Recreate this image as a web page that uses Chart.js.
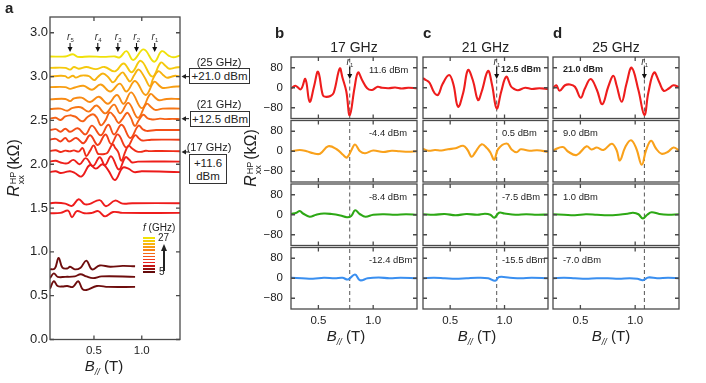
<!DOCTYPE html>
<html lang="en">
  <head>
    <meta charset="UTF-8" />
    <title>Resistance oscillations vs in-plane field</title>
    <script src="https://cdn.jsdelivr.net/npm/chart.js"></script>
    <style>
      body { margin: 0; background: #fff; }
      #fig {
        position: relative; width: 706px; height: 383px; overflow: hidden;
        font-family: "Liberation Sans", Arial, sans-serif; color: #222;
      }
      #fig canvas { position: absolute; left: 0; top: 0; }
      #labels { position: absolute; left: 0; top: 0; width: 706px; height: 383px; z-index: 2; }
      .t { position: absolute; white-space: nowrap; line-height: 1; }
      .letter { font-weight: bold; font-size: 15px; }
      .freq { font-size: 14px; transform: translateX(-50%); }
      .pow { font-size: 9.4px; }
      .pow.bold { font-weight: bold; font-size: 9px; }
      .xt { font-size: 15px; transform: translateX(-50%); }
      .xt sub { font-size: 9px; vertical-align: -4px; }
      .yt { font-size: 16px; transform: translate(-50%, -50%) rotate(-90deg); }
      .ss { display: inline-block; font-size: 9px; line-height: 8px; vertical-align: -5px; margin: 0 2px 0 1px; }
      .ss span { display: block; }
      .gz { font-size: 11px; transform: translate(-50%, -50%); }
      .box {
        position: absolute; border: 1.2px solid #333; font-size: 11.5px; text-align: center;
        box-sizing: border-box; background: #fff; line-height: 13px; white-space: nowrap;
      }
      .leg { font-size: 10px; }
      .bar { position: absolute; width: 12px; height: 1.7px; }
    </style>
  </head>
  <body>
    <div id="fig">
      <div id="labels">
        <div class="t letter" style="left:5px;top:0px">a</div>
        <div class="t letter" style="left:275px;top:25px">b</div>
        <div class="t letter" style="left:423px;top:25px">c</div>
        <div class="t letter" style="left:553px;top:25px">d</div>

        <div class="t yt" style="left:15px;top:168px"><i>R</i><span class="ss"><span>HP</span><span>xx</span></span>(kΩ)</div>
        <div class="t yt" style="left:252px;top:158px"><i>R</i><span class="ss"><span>HP</span><span>xx</span></span>(kΩ)</div>

        <div class="t xt" style="left:104px;top:358px"><i>B</i><sub><i>//</i></sub> (T)</div>
        <div class="t xt" style="left:346px;top:328px"><i>B</i><sub><i>//</i></sub> (T)</div>
        <div class="t xt" style="left:477px;top:328px"><i>B</i><sub><i>//</i></sub> (T)</div>
        <div class="t xt" style="left:611px;top:328px"><i>B</i><sub><i>//</i></sub> (T)</div>

        <div class="t gz" style="left:219px;top:62px">(25 GHz)</div>
        <div class="box" style="left:189px;top:68px;width:61px;height:16px;padding-top:1px">+21.0 dBm</div>
        <div class="t gz" style="left:219px;top:104px">(21 GHz)</div>
        <div class="box" style="left:190px;top:111px;width:60px;height:16px;padding-top:1px">+12.5 dBm</div>
        <div class="t gz" style="left:209px;top:147px">(17 GHz)</div>
        <div class="box" style="left:189px;top:154px;width:38px;height:30px;padding-top:2px">+11.6<br />dBm</div>

        <div class="t leg" style="left:143px;top:223px"><i>f</i> (GHz)</div>
        <div class="t leg" style="left:158px;top:233px">27</div>
        <div class="t leg" style="left:159px;top:267px">5</div>
        <div style="position:absolute;left:163.4px;top:250px;width:1.3px;height:21px;background:#222"></div>
        <div style="position:absolute;left:161px;top:244px;width:0;height:0;border-left:3px solid transparent;border-right:3px solid transparent;border-bottom:7px solid #222"></div>
      </div>
    </div>

    <script>
      const FONT = '"Liberation Sans", Arial, sans-serif';
      const W = 706, H = 383;

      // ---------- panel a ----------
      const aXRange = [0.04, 1.4];
      const aYRange = [0, 3.68];
      const aXTicks = [0.5, 1.0];
      const aYTicks = [0, 0.5, 1.0, 1.5, 2.0, 2.5, 3.0, 3.5];
      const aYTickLabels = ["0.0", "0.5", "1.0", "1.5", "2.0", "2.5", "3.0", "3.0"];
      const aRSubs = ["1", "2", "3", "4", "5"];
      const aRPositions = [1.135, 0.945, 0.75, 0.54, 0.25];
      const aArrowTargets = [3.0, 2.52, 2.14];

      // 12 stacked traces, top (27 GHz) to bottom
      const a1 = [[0.04,3.23],[0.2,3.23],[0.28,3.255],[0.33,3.225],[0.45,3.23],[0.6,3.225],[0.72,3.23],[0.77,3.22],[0.84,3.29],[0.91,3.19],[1.02,3.31],[1.13,3.17],[1.21,3.29],[1.28,3.24],[1.33,3.22],[1.4,3.24]];
      const a2 = [[0.04,3.1],[0.2,3.1],[0.25,3.08],[0.29,3.11],[0.34,3.09],[0.42,3.11],[0.52,3.085],[0.61,3.11],[0.72,3.06],[0.81,3.15],[0.895,3.05],[0.99,3.18],[1.11,3.0],[1.2,3.16],[1.25,3.12],[1.29,3.09],[1.34,3.1],[1.4,3.11]];
      const a3 = [[0.04,3.0],[0.15,3.01],[0.2,3.005],[0.23,2.985],[0.28,3.01],[0.31,2.988],[0.36,3.01],[0.405,3.013],[0.45,3.004],[0.503,2.96],[0.54,2.996],[0.594,3.035],[0.65,2.992],[0.7,2.934],[0.755,3.005],[0.8,3.048],[0.83,3.01],[0.877,2.944],[0.92,3.015],[0.968,3.08],[1.03,2.99],[1.084,2.891],[1.12,2.98],[1.172,3.061],[1.22,3.022],[1.26,2.988],[1.31,2.998],[1.35,3.01],[1.4,3.002]];
      const a4 = [[0.04,2.88],[0.2,2.88],[0.25,2.86],[0.3,2.875],[0.39,2.895],[0.48,2.85],[0.57,2.91],[0.67,2.83],[0.77,2.92],[0.84,2.83],[0.93,2.95],[1.04,2.79],[1.13,2.94],[1.18,2.9],[1.22,2.87],[1.3,2.88],[1.4,2.89]];
      const a5 = [[0.04,2.74],[0.2,2.745],[0.25,2.72],[0.29,2.75],[0.37,2.76],[0.46,2.71],[0.55,2.77],[0.645,2.69],[0.74,2.79],[0.81,2.69],[0.89,2.82],[1.0,2.64],[1.09,2.8],[1.14,2.76],[1.18,2.73],[1.26,2.745],[1.4,2.745]];
      const a6 = [[0.04,2.63],[0.15,2.635],[0.22,2.61],[0.27,2.64],[0.36,2.65],[0.445,2.6],[0.525,2.67],[0.62,2.58],[0.71,2.68],[0.775,2.58],[0.86,2.7],[0.96,2.53],[1.05,2.69],[1.1,2.65],[1.14,2.62],[1.22,2.635],[1.4,2.635]];
      const a7 = [[0.04,2.52],[0.1,2.53],[0.15,2.505],[0.2,2.545],[0.25,2.558],[0.28,2.55],[0.31,2.54],[0.357,2.498],[0.39,2.492],[0.43,2.535],[0.49,2.571],[0.53,2.533],[0.572,2.444],[0.62,2.5],[0.664,2.591],[0.71,2.548],[0.756,2.471],[0.79,2.505],[0.848,2.587],[0.885,2.532],[0.928,2.437],[0.97,2.505],[1.016,2.564],[1.06,2.525],[1.09,2.515],[1.124,2.51],[1.19,2.52],[1.25,2.515],[1.32,2.518],[1.4,2.515]];
      const a8 = [[0.04,2.39],[0.1,2.4],[0.15,2.37],[0.2,2.405],[0.25,2.37],[0.33,2.41],[0.41,2.34],[0.48,2.44],[0.57,2.33],[0.65,2.45],[0.71,2.34],[0.79,2.45],[0.88,2.3],[0.965,2.44],[1.01,2.4],[1.05,2.38],[1.15,2.39],[1.4,2.39]];
      const a9 = [[0.04,2.28],[0.1,2.29],[0.15,2.26],[0.2,2.3],[0.24,2.26],[0.315,2.3],[0.39,2.24],[0.46,2.33],[0.54,2.22],[0.62,2.34],[0.68,2.23],[0.75,2.34],[0.84,2.19],[0.93,2.33],[0.975,2.29],[1.01,2.27],[1.1,2.28],[1.4,2.28]];
      const a10 = [[0.04,2.15],[0.1,2.16],[0.15,2.14],[0.2,2.155],[0.247,2.147],[0.29,2.158],[0.34,2.144],[0.381,2.185],[0.42,2.094],[0.46,2.155],[0.497,2.214],[0.54,2.121],[0.563,2.115],[0.61,2.117],[0.64,2.13],[0.695,2.227],[0.72,2.19],[0.755,2.135],[0.786,2.04],[0.83,2.15],[0.862,2.211],[0.9,2.18],[0.945,2.148],[0.99,2.141],[1.04,2.154],[1.08,2.15],[1.2,2.151],[1.4,2.148]];
      const a11 = [[0.04,2.03],[0.1,2.04],[0.15,2.02],[0.22,2.01],[0.285,2.05],[0.35,2.0],[0.415,2.07],[0.49,1.98],[0.56,2.08],[0.615,1.99],[0.68,2.09],[0.76,1.94],[0.83,2.08],[0.87,2.05],[0.9,2.02],[0.96,2.03],[1.4,2.03]];
      const a12 = [[0.04,1.91],[0.1,1.92],[0.15,1.9],[0.2,1.91],[0.25,1.92],[0.3,1.9],[0.37,1.86],[0.455,1.99],[0.52,1.95],[0.59,2.0],[0.65,1.93],[0.72,1.82],[0.8,1.96],[0.86,1.95],[0.92,1.91],[1.0,1.92],[1.4,1.91]];
      // two traces near 1.5 kOhm, three low-frequency traces
      const aRed1 = [[0.04,1.555],[0.1,1.56],[0.2,1.55],[0.27,1.525],[0.34,1.6],[0.4,1.545],[0.45,1.545],[0.56,1.59],[0.625,1.52],[0.72,1.585],[0.8,1.55],[0.9,1.555],[1.4,1.555]];
      const aRed2 = [[0.04,1.44],[0.15,1.445],[0.23,1.47],[0.27,1.395],[0.32,1.465],[0.4,1.44],[0.48,1.445],[0.545,1.465],[0.615,1.405],[0.7,1.455],[0.8,1.445],[1.4,1.445]];
      const aLow1 = [[0.04,0.8],[0.09,0.81],[0.13,0.93],[0.17,0.82],[0.22,0.81],[0.25,0.83],[0.3,0.8],[0.36,0.82],[0.42,0.9],[0.48,0.8],[0.56,0.845],[0.67,0.83],[0.8,0.84],[0.93,0.835]];
      const aLow2 = [[0.04,0.7],[0.08,0.755],[0.12,0.715],[0.2,0.715],[0.3,0.72],[0.36,0.745],[0.42,0.72],[0.49,0.7],[0.58,0.72],[0.93,0.715]];
      const aLow3 = [[0.04,0.58],[0.08,0.665],[0.12,0.61],[0.17,0.605],[0.22,0.61],[0.28,0.6],[0.335,0.665],[0.38,0.575],[0.42,0.565],[0.53,0.61],[0.65,0.6],[0.93,0.6]];

      const aTraceColors = ["#f0e10a","#f5c90c","#f7b20f","#f89e12","#f88a14","#f77615","#f66216","#f44f17","#f23d18","#f02c19","#ee1f1b","#ec1a1a"];
      const aRedColor = "#ee1c1c";
      const aLowColor = "#6e0d0d";
      const legendColors = ["#f2e205","#f5cc0a","#f7b310","#f89c13","#f88415","#f66c16","#f45418","#f23a1a","#ea1e1e","#c51616","#921010","#640b0b"];

      // ---------- panels b, c, d ----------
      const bcdXRange = [0.25, 1.4];
      const bcdYRange = [-123, 123];
      const bcdXTicks = [0.5, 1.0];
      const bcdYTicks = [-80, 0, 80];
      const freqs = ["17 GHz", "21 GHz", "25 GHz"];
      const r1Pos = [0.786, 0.928, 1.084];
      const rowColors = ["#ee1d1d", "#f9a11b", "#2da815", "#3a8ff0"];
      const powers = [
        ["11.6 dBm", "-4.4 dBm", "-8.4 dBm", "-12.4 dBm"],
        ["12.5 dBm", "0.5 dBm", "-7.5 dBm", "-15.5 dBm"],
        ["21.0 dBm", "9.0 dBm", "1.0 dBm", "-7.0 dBm"],
      ];

      const t17r1 = [[0.25,-3],[0.29,8],[0.34,-6],[0.381,35],[0.42,-56],[0.46,5],[0.497,64],[0.54,-29],[0.563,-36],[0.61,-33],[0.64,-20],[0.695,77],[0.72,40],[0.755,-15],[0.786,-110],[0.83,0],[0.862,61],[0.9,30],[0.945,-2],[0.99,-9],[1.04,4],[1.08,0],[1.14,-2],[1.2,1],[1.26,-3],[1.32,0],[1.4,-2]];
      const t17r2 = [[0.25,0],[0.33,5],[0.393,0],[0.454,-8],[0.515,-10],[0.59,20],[0.667,8],[0.727,-15],[0.76,-25],[0.8,3],[0.834,27],[0.88,0],[0.926,-8],[1.0,3],[1.09,-3],[1.17,2],[1.24,0],[1.32,-2],[1.4,0]];
      const t17r3 = [[0.25,3],[0.3,8],[0.33,15],[0.36,5],[0.42,-8],[0.48,0],[0.55,5],[0.62,3],[0.7,-3],[0.76,-10],[0.8,-5],[0.835,18],[0.88,2],[0.93,-8],[1.0,0],[1.1,2],[1.2,0],[1.3,2],[1.4,0]];
      const t17r4 = [[0.25,2],[0.35,0],[0.45,-2],[0.55,2],[0.65,0],[0.72,2],[0.77,-5],[0.834,15],[0.88,-8],[0.95,0],[1.05,3],[1.15,0],[1.25,2],[1.4,0]];

      const t21r1 = [[0.25,38],[0.28,30],[0.31,20],[0.357,-22],[0.39,-28],[0.43,15],[0.49,51],[0.53,13],[0.572,-76],[0.62,-20],[0.664,71],[0.71,28],[0.756,-49],[0.79,-15],[0.848,67],[0.885,12],[0.928,-83],[0.97,-15],[1.016,44],[1.06,5],[1.09,-5],[1.124,-10],[1.19,0],[1.25,-5],[1.32,-2],[1.4,-5]];
      const t21r2 = [[0.25,10],[0.3,2],[0.36,5],[0.42,3],[0.48,8],[0.55,12],[0.62,22],[0.66,5],[0.697,-22],[0.73,-5],[0.79,28],[0.84,12],[0.87,-5],[0.906,-34],[0.94,8],[1.02,31],[1.065,7],[1.11,-4],[1.15,8],[1.23,2],[1.3,4],[1.4,-2]];
      const t21r3 = [[0.25,2],[0.35,0],[0.45,3],[0.55,-2],[0.65,3],[0.75,0],[0.82,4],[0.87,0],[0.906,-12],[0.95,8],[1.0,5],[1.1,0],[1.2,2],[1.3,0],[1.4,1]];
      const t21r4 = [[0.25,0],[0.35,2],[0.45,0],[0.55,-2],[0.65,0],[0.75,2],[0.85,0],[0.914,-10],[0.95,5],[1.05,2],[1.15,0],[1.25,2],[1.4,0]];

      const t25r1 = [[0.25,-3],[0.28,10],[0.31,-12],[0.36,10],[0.405,13],[0.45,4],[0.503,-40],[0.54,-4],[0.594,35],[0.65,-8],[0.7,-66],[0.755,5],[0.8,48],[0.83,10],[0.877,-56],[0.92,15],[0.968,80],[1.03,-10],[1.084,-109],[1.12,-20],[1.172,61],[1.22,22],[1.26,-12],[1.31,-2],[1.35,10],[1.4,2]];
      const t25r2 = [[0.25,0],[0.268,7],[0.34,17],[0.39,-2],[0.466,-15],[0.557,20],[0.6,7],[0.65,15],[0.71,5],[0.786,30],[0.83,5],[0.86,-37],[0.91,17],[0.962,44],[1.01,11],[1.06,-54],[1.1,5],[1.145,42],[1.19,11],[1.24,-10],[1.3,-2],[1.35,15],[1.4,3]];
      const t25r3 = [[0.25,2],[0.35,0],[0.45,-2],[0.55,2],[0.65,0],[0.75,-2],[0.85,0],[0.93,4],[0.98,8],[1.03,2],[1.07,-15],[1.11,0],[1.15,10],[1.22,3],[1.3,0],[1.4,2]];
      const t25r4 = [[0.25,0],[0.35,2],[0.45,0],[0.55,-2],[0.65,0],[0.75,0],[0.85,-2],[0.95,0],[1.02,-2],[1.07,-8],[1.12,3],[1.2,0],[1.3,2],[1.4,0]];

      const bcdTraces = [
        [t17r1, t17r2, t17r3, t17r4],
        [t21r1, t21r2, t21r3, t21r4],
        [t25r1, t25r2, t25r3, t25r4],
      ];

      // layout of the plot boxes (px)
      const aBox = { left: 50, right: 180, top: 17, bottom: 339.5 };
      const colL = [291, 423, 553];
      const colR = [417, 548, 679];
      const rowT = [57, 120.5, 184, 247.5];
      const rowH = 61.5;

      const toXY = (pts) => pts.map((p) => ({ x: p[0], y: p[1] }));

      // box + inward ticks on all four sides
      const framePlugin = {
        id: "frame",
        afterDatasetsDraw(chart, args, opts) {
          const { ctx, chartArea: a, scales } = chart;
          const tl = opts.tick || 4;
          ctx.save();
          ctx.strokeStyle = "#4a4a4a";
          ctx.lineWidth = 1.3;
          ctx.strokeRect(a.left, a.top, a.right - a.left, a.bottom - a.top);
          ctx.beginPath();
          (opts.xTicks || []).forEach((v) => {
            const px = scales.x.getPixelForValue(v);
            ctx.moveTo(px, a.top); ctx.lineTo(px, a.top + tl);
            ctx.moveTo(px, a.bottom); ctx.lineTo(px, a.bottom - tl);
          });
          (opts.yTicks || []).forEach((v) => {
            const py = scales.y.getPixelForValue(v);
            ctx.moveTo(a.left, py); ctx.lineTo(a.left + tl, py);
            ctx.moveTo(a.right, py); ctx.lineTo(a.right - tl, py);
          });
          ctx.stroke();
          ctx.restore();
        },
      };

      // resonance markers (r_n with arrow) and side pointers
      const markPlugin = {
        id: "marks",
        afterDatasetsDraw(chart, args, opts) {
          const { ctx, chartArea: a, scales } = chart;
          ctx.save();
          (opts.items || []).forEach((it) => {
            const px = scales.x.getPixelForValue(it.x);
            ctx.fillStyle = "#333";
            ctx.textAlign = "center";
            ctx.textBaseline = "middle";
            ctx.font = "italic 10px " + FONT;
            ctx.fillText("r", px - 1.5, a.top + it.labelDy);
            ctx.font = "6px " + FONT;
            ctx.fillText(it.sub, px + 2, a.top + it.labelDy + 3);
            ctx.strokeStyle = "#111";
            ctx.fillStyle = "#111";
            ctx.lineWidth = 1.1;
            ctx.beginPath();
            ctx.moveTo(px, a.top + it.y0);
            ctx.lineTo(px, a.top + it.y1 - 4);
            ctx.stroke();
            ctx.beginPath();
            ctx.moveTo(px - 2.5, a.top + it.y1 - 5);
            ctx.lineTo(px + 2.5, a.top + it.y1 - 5);
            ctx.lineTo(px, a.top + it.y1);
            ctx.closePath();
            ctx.fill();
          });
          (opts.pointers || []).forEach((v) => {
            const py = scales.y.getPixelForValue(v);
            ctx.strokeStyle = "#222";
            ctx.fillStyle = "#222";
            ctx.lineWidth = 1.1;
            ctx.beginPath();
            ctx.moveTo(a.right + 9, py);
            ctx.lineTo(a.right + 5, py);
            ctx.stroke();
            ctx.beginPath();
            ctx.moveTo(a.right + 1.5, py);
            ctx.lineTo(a.right + 6, py - 2.5);
            ctx.lineTo(a.right + 6, py + 2.5);
            ctx.closePath();
            ctx.fill();
          });
          ctx.restore();
        },
      };

      const fig = document.getElementById("fig");
      const labels = document.getElementById("labels");

      function makeChart(cfg) {
        const cv = document.createElement("canvas");
        cv.width = W;
        cv.height = H;
        fig.insertBefore(cv, labels);
        return new Chart(cv, cfg);
      }

      function axis(range, ticks, opts) {
        return {
          type: "linear",
          min: range[0],
          max: range[1],
          afterBuildTicks: (s) => { s.ticks = ticks.map((v) => ({ value: v })); },
          afterFit: (s) => { if (opts.size.w !== undefined) s.width = opts.size.w; else s.height = opts.size.h; },
          grid: { display: false, drawTicks: false },
          border: { display: false },
          ticks: {
            display: opts.show,
            color: "#222",
            padding: opts.pad,
            maxRotation: 0,
            autoSkip: false,
            font: { family: FONT, size: opts.fontSize },
            callback: opts.fmt,
          },
        };
      }

      // ---- panel a chart ----
      const aDatasets = [];
      [aLow1, aLow2, aLow3].forEach((t) => aDatasets.push({ data: toXY(t), borderColor: aLowColor }));
      [aRed1, aRed2].forEach((t) => aDatasets.push({ data: toXY(t), borderColor: aRedColor }));
      [a12, a11, a10, a9, a8, a7, a6, a5, a4, a3, a2, a1].forEach((t, i) =>
        aDatasets.push({ data: toXY(t), borderColor: aTraceColors[11 - i] })
      );
      aDatasets.forEach((d) => Object.assign(d, { borderWidth: 1.9, pointRadius: 0, tension: 0.4, fill: false }));

      const aYW = 40, aXH = 20;
      makeChart({
        type: "line",
        data: { datasets: aDatasets },
        options: {
          responsive: false,
          animation: false,
          devicePixelRatio: 1,
          events: [],
          layout: {
            padding: { left: aBox.left - aYW, top: aBox.top, right: W - aBox.right, bottom: H - aBox.bottom - aXH },
          },
          scales: {
            x: axis(aXRange, aXTicks, { size: { h: aXH }, show: true, pad: 4, fontSize: 11.5, fmt: (v) => v.toFixed(1) }),
            y: axis(aYRange, aYTicks, { size: { w: aYW }, show: true, pad: 2, fontSize: 13, fmt: (v, i) => aYTickLabels[i] }),
          },
          plugins: {
            legend: { display: false },
            tooltip: { enabled: false },
            frame: { xTicks: aXTicks, yTicks: aYTicks, tick: 4 },
            marks: {
              items: aRPositions.map((x, i) => ({ x, sub: aRSubs[i], labelDy: 20, y0: 26, y1: 35 })),
              pointers: aArrowTargets,
            },
          },
        },
        plugins: [framePlugin, markPlugin],
      });

      // legend bars for panel a
      legendColors.forEach((c, i) => {
        const d = document.createElement("div");
        d.className = "bar";
        d.style.left = "143px";
        d.style.top = (237 + i * 3.1).toFixed(1) + "px";
        d.style.background = c;
        labels.appendChild(d);
      });

      // ---- panels b, c, d ----
      const sYW = 30, sXH = 22;
      for (let c = 0; c < 3; c++) {
        for (let r = 0; r < 4; r++) {
          const top = rowT[r], bottom = rowT[r] + rowH;
          const datasets = [
            {
              data: toXY(bcdTraces[c][r]),
              borderColor: rowColors[r],
              borderWidth: 2.1,
              pointRadius: 0,
              tension: 0.4,
              order: 0,
            },
            {
              data: [{ x: r1Pos[c], y: bcdYRange[0] }, { x: r1Pos[c], y: bcdYRange[1] }],
              borderColor: "#555",
              borderWidth: 1,
              borderDash: [4, 3],
              pointRadius: 0,
              order: 1,
            },
          ];
          makeChart({
            type: "line",
            data: { datasets },
            options: {
              responsive: false,
              animation: false,
              devicePixelRatio: 1,
              events: [],
              layout: {
                padding: { left: colL[c] - sYW, top: top, right: W - colR[c], bottom: H - bottom - sXH },
              },
              scales: {
                x: axis(bcdXRange, bcdXTicks, { size: { h: sXH }, show: r === 3, pad: 5, fontSize: 11.5, fmt: (v) => v.toFixed(1) }),
                y: axis(bcdYRange, bcdYTicks, {
                  size: { w: sYW }, show: c === 0, pad: 8, fontSize: 11.5,
                  fmt: (v) => (v < 0 ? "\u2212" + Math.abs(v) : String(v)),
                }),
              },
              plugins: {
                legend: { display: false },
                tooltip: { enabled: false },
                frame: { xTicks: bcdXTicks, yTicks: bcdYTicks, tick: 4 },
                marks: { items: r === 0 ? [{ x: r1Pos[c], sub: "1", labelDy: 5, y0: 10, y1: 22 }] : [] },
              },
            },
            plugins: [framePlugin, markPlugin],
          });

          // power label
          const p = document.createElement("div");
          const bold = r === 0 && c > 0;
          p.className = "t pow" + (bold ? " bold" : "");
          p.textContent = powers[c][r];
          p.style.left = [369, c === 1 && r === 0 ? 501 : 502, 563][c] + "px";
          p.style.top = (top + (bold ? 8 : 7.5)) + "px";
          labels.appendChild(p);
        }
        const f = document.createElement("div");
        f.className = "t freq";
        f.textContent = freqs[c];
        f.style.left = ((colL[c] + colR[c]) / 2) + "px";
        f.style.top = "40px";
        labels.appendChild(f);
      }
    </script>
  </body>
</html>
